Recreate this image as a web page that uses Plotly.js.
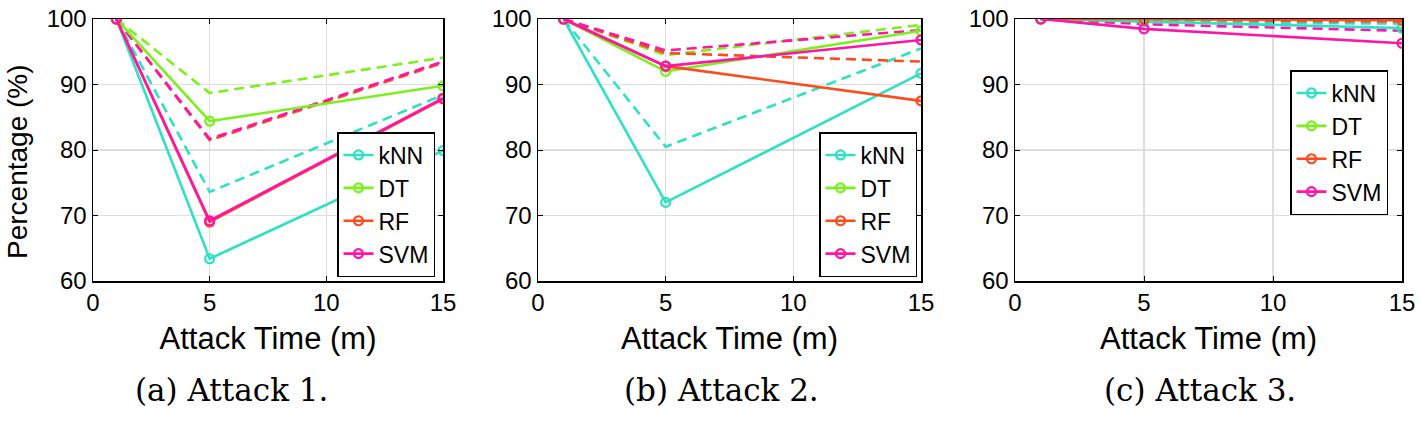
<!DOCTYPE html>
<html>
<head>
<meta charset="utf-8">
<script src="https://cdn.plot.ly/plotly-3.0.1.min.js"></script>
<style>html,body{margin:0;padding:0;background:#fff;}#chart{width:1421px;height:421px;}</style>
</head>
<body>
<div id="chart"></div>
<script>
// ---- data ----
const timeMin = [1, 5, 15];
const models = ['kNN', 'DT', 'RF', 'SVM'];
const captions = ['(a) Attack 1.', '(b) Attack 2.', '(c) Attack 3.'];

// Attack 1
const a1Solid_kNN = [100, 63.4, 79.9];
const a1Solid_DT  = [100, 84.4, 89.8];
const a1Solid_RF  = [100, 69.0, 87.8];
const a1Solid_SVM = [100, 69.2, 87.9];
const a1Dash_kNN  = [100, 73.6, 88.4];
const a1Dash_DT   = [100, 88.7, 94.1];
const a1Dash_RF   = [100, 81.5, 93.3];
const a1Dash_SVM  = [100, 81.7, 93.5];

// Attack 2
const a2Solid_kNN = [100, 72.0, 91.7];
const a2Solid_DT  = [100, 92.0, 98.2];
const a2Solid_RF  = [100, 92.8, 87.5];
const a2Solid_SVM = [100, 92.8, 96.8];
const a2Dash_kNN  = [100, 80.5, 95.5];
const a2Dash_DT   = [100, 94.5, 99.1];
const a2Dash_RF   = [100, 94.8, 93.5];
const a2Dash_SVM  = [100, 95.2, 98.3];

// Attack 3
const a3Solid_kNN = [100, 99.6, 98.6];
const a3Solid_DT  = [100, 100, 99.9];
const a3Solid_RF  = [100, 100, 99.8];
const a3Solid_SVM = [100, 98.5, 96.3];
const a3Dash_kNN  = [100, 99.5, 99.3];
const a3Dash_DT   = [100, 100, 99.9];
const a3Dash_RF   = [100, 99.9, 99.6];
const a3Dash_SVM  = [100, 99.2, 98.2];

const xTickVals = [0, 5, 10, 15];
const yTickVals = [60, 70, 80, 90, 100];

// ---- styling ----
const colors = {kNN: '#2EE0C4', DT: '#7CF01E', RF: '#FF4A1C', SVM: '#FF14A8'};
const W = 1421, H = 421;
const panelsPx = [[93, 443], [538, 921], [1015, 1402]];
const captionCx = [231, 721, 1200];
const topPx = 19, botPx = 281;
const legendPx = [[435, 277], [917, 277], [1388, 215]];

const panels = [
  {solid: [a1Solid_kNN, a1Solid_DT, a1Solid_RF, a1Solid_SVM], dash: [a1Dash_kNN, a1Dash_DT, a1Dash_RF, a1Dash_SVM]},
  {solid: [a2Solid_kNN, a2Solid_DT, a2Solid_RF, a2Solid_SVM], dash: [a2Dash_kNN, a2Dash_DT, a2Dash_RF, a2Dash_SVM]},
  {solid: [a3Solid_kNN, a3Solid_DT, a3Solid_RF, a3Solid_SVM], dash: [a3Dash_kNN, a3Dash_DT, a3Dash_RF, a3Dash_SVM]}
];

const font = 'Liberation Sans, Arial, sans-serif';
const traces = [];
const layout = {
  width: W, height: H,
  margin: {l: 0, r: 0, t: 0, b: 0},
  paper_bgcolor: '#fff', plot_bgcolor: '#fff',
  font: {family: font, size: 24, color: '#000'},
  showlegend: true,
  annotations: [{
    text: 'Percentage (%)', xref: 'paper', yref: 'paper', textangle: -90,
    x: 18 / W, y: 1 - 162 / H, xanchor: 'center', yanchor: 'middle',
    showarrow: false, font: {family: font, size: 28, color: '#000'}
  }]
};

panels.forEach((p, i) => {
  const sfx = i === 0 ? '' : String(i + 1);
  const xa = 'x' + sfx, ya = 'y' + sfx;
  const lg = i === 0 ? 'legend' : 'legend' + (i + 1);
  // dashed first
  p.dash.forEach((vals, k) => {
    traces.push({
      x: timeMin, y: vals, xaxis: xa, yaxis: ya, type: 'scatter', mode: 'lines',
      line: {color: colors[models[k]], width: 2.6, dash: '10px,6px'},
      showlegend: false, legend: lg, hoverinfo: 'skip'
    });
  });
  p.solid.forEach((vals, k) => {
    traces.push({
      x: timeMin, y: vals, xaxis: xa, yaxis: ya, type: 'scatter', mode: 'lines+markers',
      name: models[k],
      line: {color: colors[models[k]], width: 2.6},
      marker: {symbol: 'circle-open', size: 9, color: colors[models[k]], line: {width: 2.2, color: colors[models[k]]}},
      showlegend: true, legend: lg
    });
  });

  const [x0, x1] = panelsPx[i];
  layout['xaxis' + sfx] = {
    domain: [x0 / W, x1 / W], anchor: ya, range: [0, 15],
    tickvals: xTickVals, ticks: 'inside', ticklen: 5, tickcolor: '#000',
    showline: true, linecolor: '#000', linewidth: 1.5, mirror: 'ticks',
    showgrid: true, gridcolor: '#dedede', gridwidth: 1.2, zeroline: false,
    tickfont: {family: font, size: 24, color: '#000'},
    title: {text: 'Attack Time (m)', font: {family: font, size: 31, color: '#000'}, standoff: 12},
    fixedrange: true
  };
  layout['yaxis' + sfx] = {
    domain: [1 - botPx / H, 1 - topPx / H], anchor: xa, range: [60, 100],
    tickvals: yTickVals, ticks: 'inside', ticklen: 5, tickcolor: '#000',
    showline: true, linecolor: '#000', linewidth: 1.5, mirror: 'ticks',
    showgrid: true, gridcolor: '#dedede', gridwidth: 1.2, zeroline: false,
    tickfont: {family: font, size: 24, color: '#000'},
    title: {text: ''},
    fixedrange: true
  };
  layout[lg] = {
    x: legendPx[i][0] / W, y: 1 - legendPx[i][1] / H, xanchor: 'right', yanchor: 'bottom',
    xref: 'paper', yref: 'paper',
    bgcolor: '#fff', bordercolor: '#000', borderwidth: 1.5,
    font: {family: font, size: 23, color: '#000'},
    tracegroupgap: 0, itemwidth: 30
  };
  layout.annotations.push({
    text: captions[i], xref: 'paper', yref: 'paper',
    x: captionCx[i] / W, y: 1 - 390 / H, xanchor: 'center', yanchor: 'middle',
    showarrow: false, font: {family: 'DejaVu Serif, serif', size: 31, color: '#000'}
  });
});

Plotly.newPlot('chart', traces, layout, {displayModeBar: false, staticPlot: true});
</script>
</body>
</html>
